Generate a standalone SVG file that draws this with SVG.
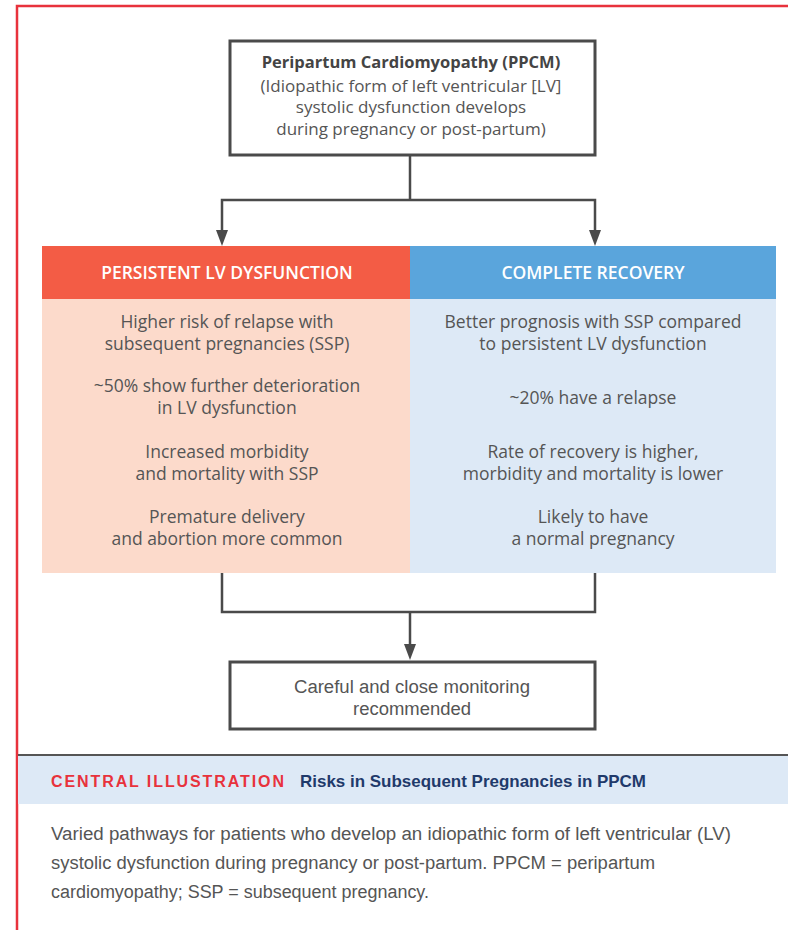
<svg xmlns="http://www.w3.org/2000/svg" width="788" height="930" viewBox="0 0 788 930">
<defs>
<style>
.t{font-family:"Open Sans","Noto Sans","Liberation Sans",sans-serif;font-size:17.5px;fill:#555;text-anchor:middle}
.s{font-size:17px}
.b{font-weight:bold;fill:#444;font-size:16.5px}
.h{font-family:"Open Sans","Noto Sans","Liberation Sans",sans-serif;font-size:17.5px;font-weight:600;fill:#fff;text-anchor:middle}
.n{font-family:"Liberation Sans",sans-serif;font-size:18px;fill:#555}
.box{fill:#fff;stroke:#4a4a4a;stroke-width:3}
.ln{fill:none;stroke:#4a4a4a;stroke-width:2.5}
</style>
</defs>
<rect width="788" height="930" fill="#fff"/>
<path d="M17,930 L17,6 L788,6" fill="none" stroke="#e8323c" stroke-width="2.5"/>

<g id="connectors">
<path class="ln" d="M410,155 L410,200"/>
<path class="ln" d="M410,200 L222,200 L222,230"/>
<path class="ln" d="M410,200 L595,200 L595,230"/>
<path d="M216,230 L228,230 L222,246 Z" fill="#4a4a4a"/>
<path d="M589,230 L601,230 L595,246 Z" fill="#4a4a4a"/>
<path class="ln" d="M222,573 L222,612 L595,612 L595,573"/>
<path class="ln" d="M410,612 L410,644"/>
<path d="M404,644 L416,644 L410,660 Z" fill="#4a4a4a"/>
</g>

<g id="ppcm">
<rect class="box" x="230" y="41" width="365" height="114"/>
<text class="t b" x="411" y="68">Peripartum Cardiomyopathy (PPCM)</text>
<text class="t s" x="411" y="92">(Idiopathic form of left ventricular [LV]</text>
<text class="t s" x="411" y="113">systolic dysfunction develops</text>
<text class="t s" x="411" y="135">during pregnancy or post-partum)</text>
</g>

<g id="persistent">
<rect x="42" y="246" width="368" height="53" fill="#f35c45"/>
<rect x="42" y="299" width="368" height="274" fill="#fcdacb"/>
<text class="h" x="227" y="279">PERSISTENT LV DYSFUNCTION</text>
<text class="t" x="227" y="328">Higher risk of relapse with</text>
<text class="t" x="227" y="350">subsequent pregnancies (SSP)</text>
<text class="t" x="227" y="392">~50% show further deterioration</text>
<text class="t" x="227" y="414">in LV dysfunction</text>
<text class="t" x="227" y="458">Increased morbidity</text>
<text class="t" x="227" y="480">and mortality with SSP</text>
<text class="t" x="227" y="523">Premature delivery</text>
<text class="t" x="227" y="545">and abortion more common</text>
</g>

<g id="recovery">
<rect x="410" y="246" width="366" height="53" fill="#5aa5dc"/>
<rect x="410" y="299" width="366" height="274" fill="#dde9f6"/>
<text class="h" x="593" y="279">COMPLETE RECOVERY</text>
<text class="t" x="593" y="328">Better prognosis with SSP compared</text>
<text class="t" x="593" y="350">to persistent LV dysfunction</text>
<text class="t" x="593" y="404">~20% have a relapse</text>
<text class="t" x="593" y="458">Rate of recovery is higher,</text>
<text class="t" x="593" y="480">morbidity and mortality is lower</text>
<text class="t" x="593" y="523">Likely to have</text>
<text class="t" x="593" y="545">a normal pregnancy</text>
</g>

<g id="monitoring">
<rect class="box" x="230" y="662" width="365" height="67"/>
<text class="n" x="294" y="693" textLength="236" lengthAdjust="spacingAndGlyphs">Careful and close monitoring</text>
<text class="n" x="353" y="715" textLength="118" lengthAdjust="spacingAndGlyphs">recommended</text>
</g>

<g id="caption">
<rect x="18" y="756" width="770" height="48" fill="#dde9f6"/>
<line x1="18" y1="755" x2="788" y2="755" stroke="#555" stroke-width="2"/>
<text x="51" y="787" font-family="'Liberation Sans',sans-serif" font-size="16" font-weight="bold" fill="#e8323c" textLength="233" lengthAdjust="spacing">CENTRAL ILLUSTRATION</text>
<text x="300" y="787" font-family="'Liberation Sans',sans-serif" font-size="17" font-weight="bold" fill="#1f3a6b" textLength="346" lengthAdjust="spacingAndGlyphs">Risks in Subsequent Pregnancies in PPCM</text>
<text class="n" x="51" y="840" textLength="680" lengthAdjust="spacingAndGlyphs" fill="#333">Varied pathways for patients who develop an idiopathic form of left ventricular (LV)</text>
<text class="n" x="51" y="869" textLength="604" lengthAdjust="spacingAndGlyphs" fill="#333">systolic dysfunction during pregnancy or post-partum. PPCM = peripartum</text>
<text class="n" x="51" y="898" textLength="378" lengthAdjust="spacingAndGlyphs" fill="#333">cardiomyopathy; SSP = subsequent pregnancy.</text>
</g>
</svg>
